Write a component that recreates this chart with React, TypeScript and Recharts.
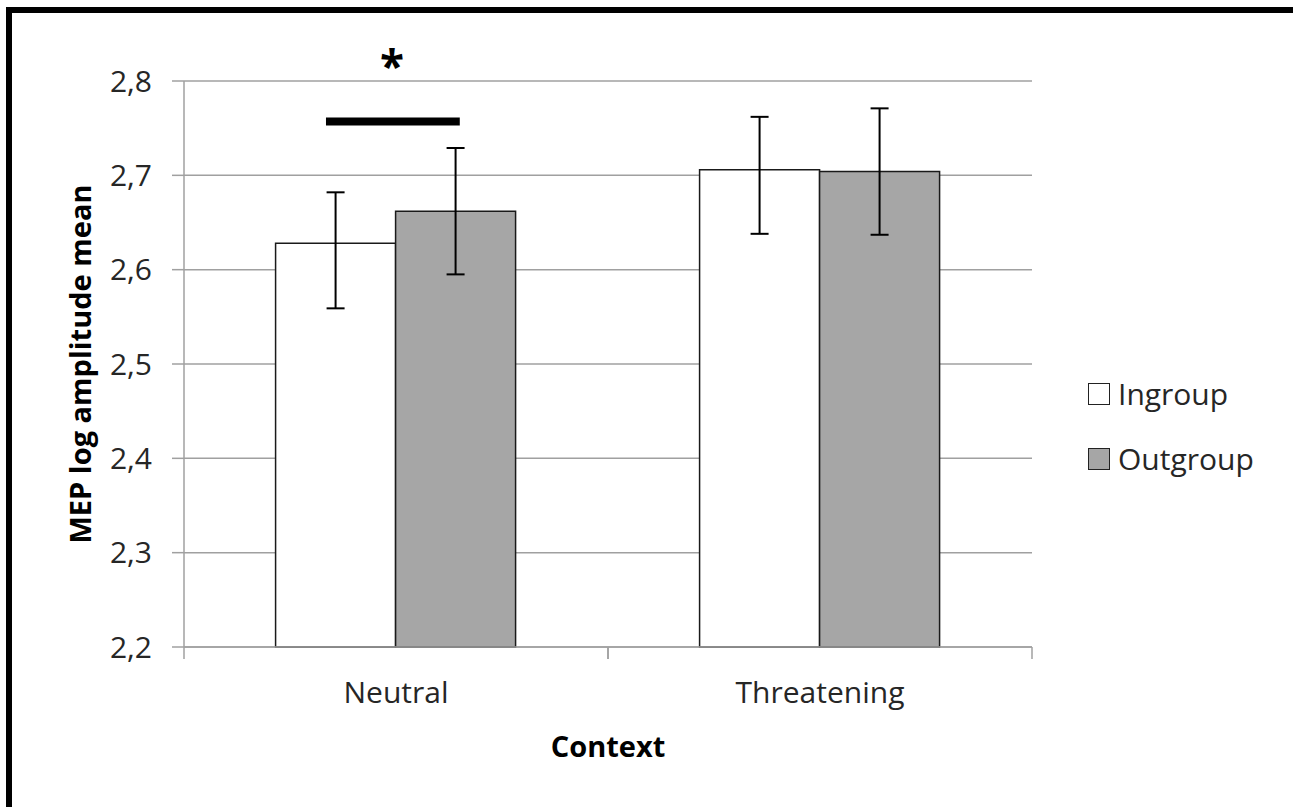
import React from "react";
import {
  BarChart,
  Bar,
  XAxis,
  YAxis,
  CartesianGrid,
  ErrorBar,
  Legend,
  LabelList,
  Label,
} from "recharts";

const contexts = ["Neutral", "Threatening"];
const ingroupMeans = [2.628, 2.706];
const outgroupMeans = [2.662, 2.704];
// error bars as [below, above]
const ingroupErrors = [
  [0.069, 0.054],
  [0.068, 0.056],
];
const outgroupErrors = [
  [0.067, 0.067],
  [0.067, 0.067],
];
const yTicks = [2.2, 2.3, 2.4, 2.5, 2.6, 2.7, 2.8];
const yMin = 2.2;
const yMax = 2.8;
// significance bracket between the two Neutral bars
const sigLevel = 2.757;
const sigMark = "*";

const series = [
  { key: "ingroup", err: "ingroupErr", name: "Ingroup", fill: "#ffffff" },
  { key: "outgroup", err: "outgroupErr", name: "Outgroup", fill: "#a6a6a6" },
];

const data = contexts.map((context, i) => ({
  context,
  ingroup: ingroupMeans[i],
  outgroup: outgroupMeans[i],
  ingroupErr: ingroupErrors[i],
  outgroupErr: outgroupErrors[i],
}));

const FONT = "'Open Sans', 'Noto Sans', sans-serif";
const TEXT = "#262626";
const GRID = "#a0a0a0";

const W = 1293;
const H = 807;
const PLOT_W = W - 184 - 261;

const fmt = (v: number) => v.toFixed(1).replace(".", ",");

function CategoryTick(props: any) {
  const { x, y, payload } = props;
  const half = payload?.offset || PLOT_W / contexts.length / 2;
  return (
    <g>
      <line x1={x - half} y1={y} x2={x - half} y2={y + 12} stroke={GRID} strokeWidth={1.5} />
      <line x1={x + half} y1={y} x2={x + half} y2={y + 12} stroke={GRID} strokeWidth={1.5} />
      <text x={x} y={y + 56} textAnchor="middle" fill={TEXT} fontSize={30} fontFamily={FONT}>
        {payload.value}
      </text>
    </g>
  );
}

function SignificanceMark(props: any) {
  const { index, value } = props;
  if (index !== 0) return null;
  const vb = props.viewBox || props;
  const { x, y, width, height } = vb;
  const pxPerUnit = height / (Number(value) - yMin);
  const lineY = y + height - (sigLevel - yMin) * pxPerUnit;
  const x1 = x + width * 0.42;
  const x2 = x + width * 1.535;
  return (
    <g>
      <line x1={x1} y1={lineY} x2={x2} y2={lineY} stroke="#000" strokeWidth={8} />
      <text
        x={(x1 + x2) / 2 - 1}
        y={lineY - 40}
        textAnchor="middle"
        fontSize={44}
        fontWeight={700}
        fontFamily={FONT}
        fill="#000"
      >
        {sigMark}
      </text>
    </g>
  );
}

function renderLegend(props: any) {
  const payload = props.payload || [];
  return (
    <div style={{ display: "flex", flexDirection: "column", gap: 35, fontFamily: FONT }}>
      {payload.map((entry: any) => {
        const s = series.find((d) => d.key === entry.dataKey);
        return (
          <div key={entry.value} style={{ display: "flex", alignItems: "center", height: 30 }}>
            <span
              style={{
                width: 22,
                height: 22,
                boxSizing: "border-box",
                border: "1.5px solid #222",
                background: s ? s.fill : entry.color,
                marginRight: 8,
              }}
            />
            <span style={{ fontSize: 30, color: TEXT, lineHeight: "30px" }}>{entry.value}</span>
          </div>
        );
      })}
    </div>
  );
}

export default function App() {
  return (
    <div
      style={{
        position: "absolute",
        left: 0,
        top: 0,
        width: W,
        height: H,
        background: "#fff",
        overflow: "hidden",
      }}
    >
      <div
        style={{
          position: "absolute",
          left: 6,
          top: 7,
          width: 1300,
          height: 830,
          border: "6px solid #000",
          boxSizing: "border-box",
        }}
      />
      <BarChart
        width={W}
        height={H}
        data={data}
        margin={{ top: 81, right: 261, bottom: 100, left: 0 }}
        barGap={0}
        barCategoryGap="21.6%"
        style={{ fontFamily: FONT }}
      >
        <CartesianGrid horizontal vertical={false} stroke={GRID} strokeWidth={1.5} />
        <XAxis
          dataKey="context"
          height={60}
          axisLine={{ stroke: GRID, strokeWidth: 1.5 }}
          tickLine={false}
          tickSize={0}
          tickMargin={0}
          tick={<CategoryTick />}
        >
          <Label
            content={(p: any) => {
              const vb = p.viewBox;
              return (
                <text
                  x={vb.x + vb.width / 2}
                  y={vb.y + 110}
                  textAnchor="middle"
                  fontSize={29}
                  fontWeight={700}
                  fontFamily={FONT}
                  fill="#000"
                >
                  Context
                </text>
              );
            }}
          />
        </XAxis>
        <YAxis
          width={184}
          domain={[yMin, yMax]}
          ticks={yTicks}
          tickFormatter={fmt}
          axisLine={{ stroke: GRID, strokeWidth: 1.5 }}
          tickLine={{ stroke: GRID, strokeWidth: 1.5 }}
          tickSize={12}
          tickMargin={20}
          tick={{ fill: TEXT, fontSize: 30, fontFamily: FONT }}
        >
          <Label
            content={(p: any) => {
              const vb = p.viewBox;
              const cx = vb.x + 79;
              const cy = vb.y + vb.height / 2;
              return (
                <text
                  x={cx}
                  y={cy}
                  transform={`rotate(-90 ${cx} ${cy})`}
                  textAnchor="middle"
                  dominantBaseline="central"
                  fontSize={29}
                  fontWeight={700}
                  fontFamily={FONT}
                  fill="#000"
                >
                  MEP log amplitude mean
                </text>
              );
            }}
          />
        </YAxis>
        <Legend
          layout="vertical"
          align="center"
          verticalAlign="middle"
          content={renderLegend}
          wrapperStyle={{ left: 1088, top: 379, width: 200 }}
        />
        {series.map((s) => (
          <Bar
            key={s.key}
            dataKey={s.key}
            name={s.name}
            fill={s.fill}
            stroke="#1a1a1a"
            strokeWidth={1.5}
            isAnimationActive={false}
          >
            <ErrorBar
              dataKey={s.err}
              width={9}
              stroke="#000"
              strokeWidth={2}
              direction="y"
              isAnimationActive={false}
            />
            {s.key === "ingroup" ? (
              <LabelList dataKey={s.key} content={<SignificanceMark />} />
            ) : null}
          </Bar>
        ))}
      </BarChart>
    </div>
  );
}
